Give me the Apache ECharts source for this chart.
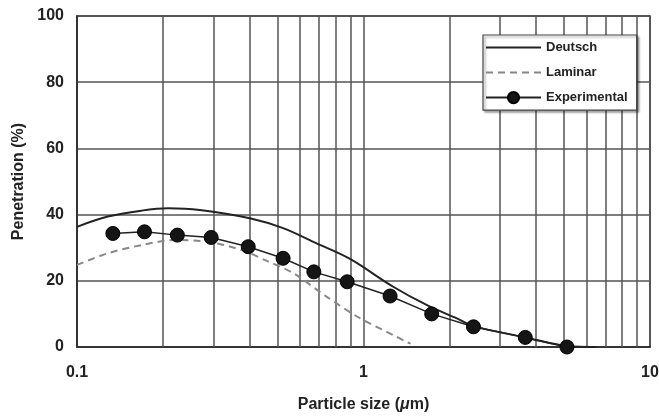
<!DOCTYPE html>
<html>
<head>
<meta charset="utf-8">
<script src="https://cdn.jsdelivr.net/npm/echarts@6/dist/echarts.min.js"></script>
<style>html,body{margin:0;padding:0;background:#fff}#c{width:659px;height:417px}</style>
</head>
<body>
<div id="c"></div>
<script>
// Data
var deutschX = [0.1, 0.128, 0.168, 0.208, 0.268, 0.401, 0.524, 0.686, 0.897, 1.27, 1.66, 2.17, 2.42, 3.67, 5.13, 6.5];
var deutschY = [36.3, 39.4, 41.2, 41.9, 41.4, 38.9, 35.9, 31.3, 26.6, 18.2, 12.7, 8.2, 6.3, 2.9, 0.3, 0];
var laminarX = [0.1, 0.128, 0.168, 0.219, 0.287, 0.375, 0.46, 0.569, 0.743, 0.972, 1.27, 1.41, 1.46];
var laminarY = [24.8, 28.3, 30.8, 32.3, 31.8, 29.3, 26.0, 22.3, 15.2, 8.7, 3.6, 1.6, 1.0];
var expX = [0.1334, 0.172, 0.224, 0.294, 0.396, 0.524, 0.671, 0.877, 1.238, 1.73, 2.42, 3.67, 5.13];
var expY = [34.3, 34.8, 33.8, 33.1, 30.3, 26.8, 22.7, 19.7, 15.4, 10.0, 6.1, 2.9, 0];
var minorGridX = [0.2, 0.3, 0.4, 0.5, 0.6, 0.7, 0.8, 0.9, 2, 3, 4, 5, 6, 7, 8, 9];
var yTicks = {min: 0, max: 100, interval: 20};

function pairs(xs, ys) { return xs.map(function (x, i) { return [x, ys[i]]; }); }

var chart = echarts.init(document.getElementById('c'));
var font = '"Liberation Sans", Arial, sans-serif';
chart.setOption({
  animation: false,
  backgroundColor: '#fff',
  textStyle: {fontFamily: font},
  grid: {left: 77, right: 9, top: 16, bottom: 70, outerBoundsMode: 'none', containLabel: false,
         show: true, borderColor: '#2a2a2a', borderWidth: 1.5, backgroundColor: 'transparent'},
  xAxis: {
    type: 'log', logBase: 10, min: 0.1, max: 10,
    name: '{n|Particle size (}{i|μ}{n|m)}', nameLocation: 'middle', nameGap: 50,
    nameTextStyle: {rich: {n: {fontSize: 16, fontWeight: 'bold', color: '#222', fontFamily: font}, i: {fontSize: 16, fontWeight: 'bold', fontStyle: 'italic', color: '#222', fontFamily: font}}},
    axisLine: {lineStyle: {color: '#2a2a2a', width: 1.5}},
    axisTick: {show: false},
    axisLabel: {fontSize: 16, fontWeight: 'bold', color: '#222', margin: 18, fontFamily: font},
    splitLine: {show: true, lineStyle: {color: '#555', width: 1.5}}
  },
  yAxis: {
    type: 'value', min: yTicks.min, max: yTicks.max, interval: yTicks.interval,
    name: 'Penetration (%)', nameLocation: 'middle', nameGap: 50,
    nameTextStyle: {fontSize: 16, fontWeight: 'bold', color: '#222'},
    axisLine: {show: true, lineStyle: {color: '#2a2a2a', width: 1.5}},
    axisTick: {show: false},
    axisLabel: {fontSize: 16, fontWeight: 'bold', color: '#222', margin: 13},
    splitLine: {show: true, lineStyle: {color: '#555', width: 1.5}}
  },
  legend: {
    orient: 'vertical', left: 483, top: 35,
    padding: [6, 9, 6, 2], itemGap: 12, itemWidth: 55, itemHeight: 14,
    backgroundColor: '#fff', borderColor: '#444', borderWidth: 1.2,
    shadowColor: 'rgba(0,0,0,0.35)', shadowOffsetX: 2, shadowOffsetY: 2, shadowBlur: 2,
    textStyle: {fontSize: 13, fontWeight: 'bold', color: '#222'},
    data: [
      {name: 'Deutsch', itemStyle: {opacity: 0}},
      {name: 'Laminar', itemStyle: {opacity: 0}},
      {name: 'Experimental'}
    ]
  },
  series: [
    {
      name: 'Deutsch', type: 'line', data: pairs(deutschX, deutschY), smooth: 0.35,
      symbol: 'none', lineStyle: {color: '#222', width: 2}, itemStyle: {color: '#222'}, z: 3,
      markLine: {
        silent: true, symbol: 'none', label: {show: false},
        lineStyle: {color: '#555', width: 1.5, type: 'solid'},
        data: minorGridX.map(function (v) { return {xAxis: v}; }),
        z: 1
      }
    },
    {
      name: 'Laminar', type: 'line', data: pairs(laminarX, laminarY), smooth: 0.3,
      symbol: 'none', lineStyle: {color: '#888', width: 2, type: [7, 5]}, itemStyle: {color: '#888'}, z: 3
    },
    {
      name: 'Experimental', type: 'line', data: pairs(expX, expY),
      symbol: 'circle', symbolSize: 14, lineStyle: {color: '#222', width: 1.5},
      itemStyle: {color: '#151515', borderColor: '#000', borderWidth: 1}, z: 4
    }
  ]
});
</script>
</body>
</html>
